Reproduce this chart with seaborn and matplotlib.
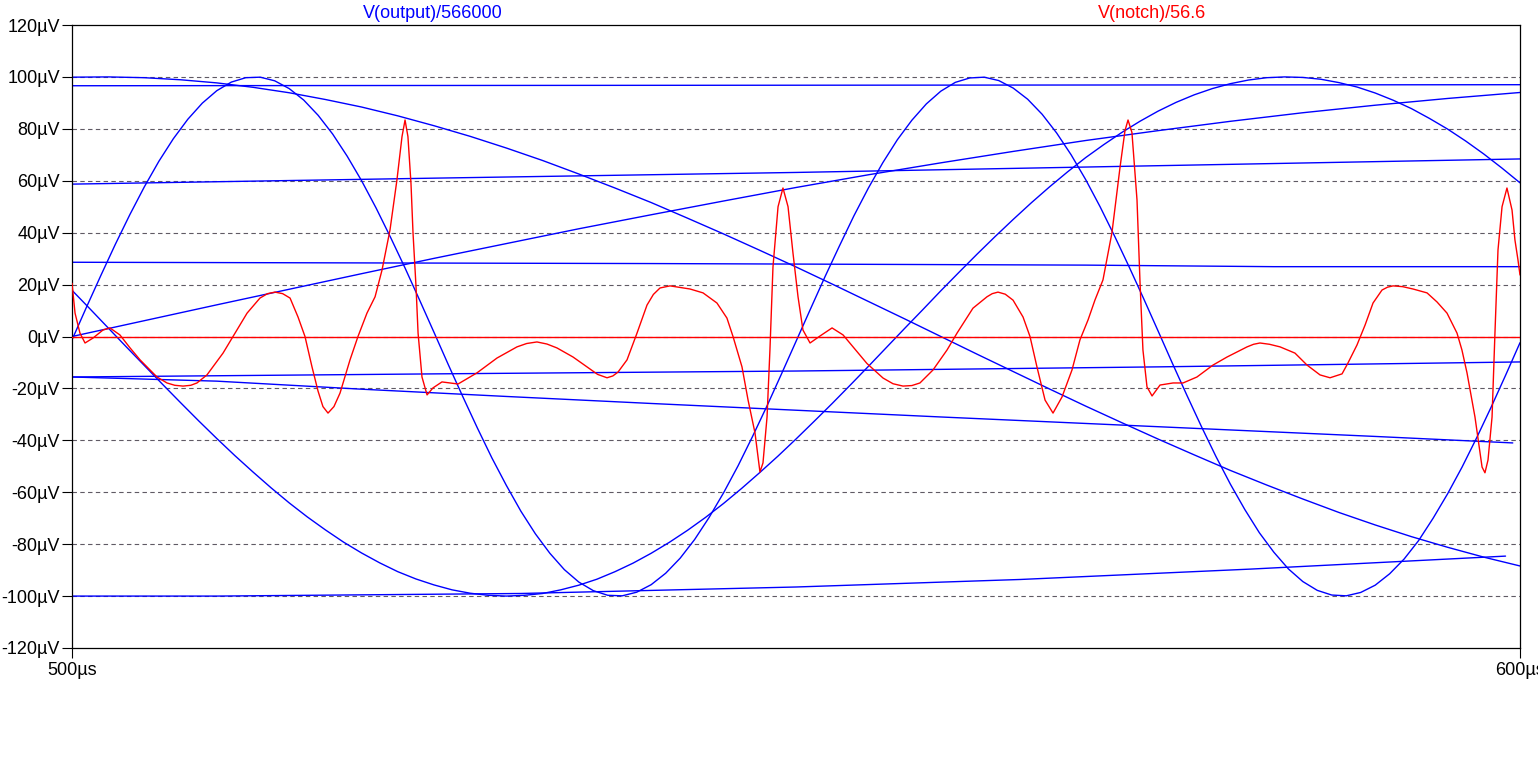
import numpy as np
import matplotlib
matplotlib.use("Agg")
import matplotlib.pyplot as plt
import seaborn as sns

# ---------------- data (time in µs, value in µV) ----------------
# fast blue sine, sampled every 1 µs
a_t = np.arange(500, 601, 1)
a_v = [-1.3, 11.3, 23.6, 35.6, 47.0, 57.7, 67.5, 76.2, 83.7, 89.9,
       94.7, 98.0, 99.7, 99.9, 98.5, 95.5, 91.1, 85.2, 78.0, 69.5,
       60.0, 49.5, 38.2, 26.4, 14.1, 1.6, -11.0, -23.3, -35.3, -46.8,
       -57.4, -67.3, -76.0, -83.5, -89.8, -94.6, -97.9, -99.7, -99.9, -98.5,
       -95.6, -91.2, -85.4, -78.2, -69.7, -60.2, -49.8, -38.5, -26.7, -14.4,
       -1.9, 10.6, 23.0, 34.9, 46.5, 57.2, 67.0, 75.8, 83.3, 89.6,
       94.5, 97.9, 99.6, 99.9, 98.6, 95.7, 91.4, 85.6, 78.4, 70.0,
       60.5, 50.0, 38.7, 26.9, 14.7, 2.2, -10.4, -22.7, -34.7, -46.2,
       -56.9, -66.7, -75.6, -83.1, -89.5, -94.4, -97.8, -99.6, -99.9, -98.6,
       -95.8, -91.4, -85.7, -78.6, -70.0, -60.6, -50.3, -39.1, -27.3, -15.0,
       -2.4]

# slow falling blue curve, every 2.5 µs
b_t = np.arange(500, 600.1, 2.5)
b_v = [99.9, 100.0, 99.7, 98.9, 97.7, 96.0, 93.9, 91.3, 88.4, 85.0,
       81.2, 77.1, 72.6, 67.8, 62.6, 57.2, 51.6, 45.6, 39.5, 33.2,
       26.8, 20.2, 13.5, 6.8, 0.0, -6.8, -13.5, -20.2, -26.8, -33.2,
       -39.5, -45.6, -51.6, -57.2, -62.6, -67.8, -72.6, -77.1, -81.2, -85.0,
       -88.4]

# slow rising blue curve, every 5 µs
c_t = np.arange(500, 601, 5)
c_v = [0.0, 6.1, 12.2, 18.2, 24.2, 30.1, 35.8, 41.5, 46.9, 52.2, 57.4, 62.3, 66.9,
       71.3, 75.5, 79.3, 82.9, 86.2, 89.1, 91.7, 94.0]

# medium blue sine, every 1.25 µs
d_t = np.arange(500, 600.01, 1.25)
d_v = [17.8, 10.6, 3.3, -4.0, -11.2, -18.4, -25.5, -32.5, -39.3, -45.9,
       -52.2, -58.3, -64.1, -69.5, -74.5, -79.2, -83.4, -87.2, -90.6, -93.4,
       -95.7, -97.6, -98.9, -99.7, -100.0, -99.7, -99.0, -97.6, -95.8, -93.5,
       -90.6, -87.3, -83.5, -79.3, -74.7, -69.7, -64.3, -58.5, -52.4, -46.1,
       -39.5, -32.7, -25.8, -18.7, -11.5, -4.2, 3.1, 10.3, 17.6, 24.7,
       31.7, 38.5, 45.1, 51.5, 57.6, 63.4, 68.9, 73.9, 78.6, 82.9,
       86.8, 90.2, 93.1, 95.5, 97.4, 98.8, 99.7, 100.0, 99.8, 99.1,
       97.8, 96.1, 93.8, 91.0, 87.8, 84.0, 79.9, 75.3, 70.3, 64.9,
       59.2]

# nearly flat blue traces
e1_t = [500, 550, 600]
e1_v = [96.6, 96.8, 97.0]
e2_t = [500, 525, 550, 575, 600]
e2_v = [58.7, 61.0, 63.2, 65.8, 68.4]
e3_t = [500, 540, 570, 583, 600]
e3_v = [28.6, 28.1, 27.5, 26.9, 26.9]
e4_t = [500, 525, 550, 575, 600]
e4_v = [-15.6, -14.4, -13.3, -11.7, -9.8]
e5_t = [500, 510, 520, 530, 540, 550, 560, 570, 580, 590, 599.5]
e5_v = [-15.6, -17.2, -20.3, -23.1, -25.8, -28.4, -31.0, -33.5, -36.0, -38.5, -41.0]
e6_t = [500, 510, 531, 550, 565.5, 581.4, 599.0]
e6_v = [-100, -100, -99, -96.5, -93.6, -89.6, -84.6]

blue_series = [(a_t, a_v), (b_t, b_v), (c_t, c_v), (d_t, d_v), (e1_t, e1_v),
               (e2_t, e2_v), (e3_t, e3_v), (e4_t, e4_v), (e5_t, e5_v), (e6_t, e6_v)]

# red V(notch)/56.6 trace: (time µs, value µV)
red_points = [
    (500.00, 20.5), (500.21, 9.0), (500.55, 1.3), (500.90, -2.5), (501.45, -0.6),
    (502.14, 2.5), (502.62, 3.3), (503.31, 0.6), (504.01, -4.4), (504.70, -9.0),
    (505.87, -15.6), (506.56, -17.9), (507.10, -18.8), (507.67, -19.1), (508.20, -18.8),
    (508.63, -17.9), (509.32, -14.8), (510.43, -6.4), (511.12, 0.0), (512.09, 9.0),
    (512.98, 14.8), (513.50, 16.5), (514.02, 17.1), (514.55, 16.5), (515.06, 14.8),
    (515.61, 7.5), (516.09, 0.0), (516.57, -11.6), (516.99, -21.0), (517.33, -27.0),
    (517.68, -29.5), (518.09, -27.0), (518.51, -21.8), (519.20, -9.0), (519.75, 0.0),
    (520.37, 9.0), (520.93, 15.3), (521.41, 25.6), (521.96, 41.0), (522.44, 60.3),
    (522.79, 77.0), (523.00, 83.4), (523.20, 77.0), (523.41, 59.0), (523.55, 40.0),
    (523.76, 19.0), (523.90, 1.3), (524.17, -15.6), (524.52, -22.5), (524.93, -19.8),
    (525.55, -17.5), (526.66, -18.3), (527.97, -14.0), (529.35, -8.3), (530.73, -4.0),
    (531.40, -2.7), (532.11, -2.1), (532.80, -2.9), (533.49, -4.4), (534.60, -7.9),
    (535.57, -11.7), (536.30, -14.6), (536.95, -15.9), (537.35, -15.2), (537.71, -13.7),
    (538.33, -9.0), (539.02, 1.3), (539.71, 12.1), (540.15, 16.2), (540.61, 18.7),
    (541.30, 19.5), (542.68, 18.3), (543.58, 16.8), (544.54, 12.9), (545.23, 7.1),
    (545.65, 0.0), (546.27, -11.7), (546.69, -24.5), (547.17, -37.2), (547.51, -52.2),
    (547.72, -48.7), (548.00, -31.0), (548.20, -5.2), (548.41, 26.8), (548.76, 50.0),
    (549.10, 57.2), (549.45, 50.0), (549.79, 32.2), (550.14, 15.3), (550.48, 2.5),
    (550.97, -2.5), (551.66, 0.2), (552.49, 3.3), (553.25, 0.6), (553.94, -4.0),
    (554.90, -10.4), (556.01, -16.0), (556.70, -18.2), (557.39, -19.1), (558.00, -18.9),
    (558.56, -17.9), (559.46, -12.9), (560.43, -5.2), (561.12, 1.3), (562.22, 10.9),
    (563.19, 15.3), (563.55, 16.5), (563.95, 17.1), (564.45, 16.3), (564.99, 14.0),
    (565.68, 7.5), (566.16, 0.0), (566.64, -11.7), (567.20, -24.5), (567.75, -29.5),
    (568.37, -23.3), (569.06, -12.9), (569.61, -1.3), (570.17, 6.4), (570.65, 14.1),
    (571.20, 21.8), (571.82, 40.0), (572.38, 65.3), (572.72, 79.3), (572.93, 83.4),
    (573.20, 78.6), (573.55, 52.6), (573.76, 20.6), (573.96, -5.2), (574.24, -19.4),
    (574.59, -22.9), (575.14, -18.7), (576.04, -17.9), (576.73, -17.9), (577.69, -15.6),
    (578.80, -11.0), (579.77, -7.9), (581.15, -4.0), (581.60, -3.0), (582.04, -2.5),
    (582.70, -3.0), (583.43, -4.0), (584.46, -6.4), (585.29, -11.0), (586.19, -14.8),
    (586.88, -15.9), (587.71, -14.4), (588.12, -10.2), (588.74, -3.3), (589.30, 4.4),
    (589.85, 12.9), (590.47, 17.9), (590.85, 19.0), (591.23, 19.5), (591.90, 19.2),
    (592.61, 18.3), (593.58, 16.8), (594.27, 13.3), (594.96, 9.0), (595.65, 1.3),
    (595.99, -5.2), (596.34, -14.0), (596.89, -31.0), (597.38, -50.3), (597.58, -52.5),
    (597.79, -47.6), (598.07, -31.0), (598.27, 1.3), (598.48, 33.3), (598.76, 50.0),
    (599.10, 57.2), (599.45, 48.7), (599.65, 37.2), (599.86, 29.5), (600.00, 23.7),
]
red_t = [p[0] for p in red_points]
red_v = [p[1] for p in red_points]
red_zero_t = [500, 600]
red_zero_v = [0, 0]

y_ticks = list(range(-120, 121, 20))
y_tick_labels = [f"{v}µV" for v in y_ticks]
x_ticks = [500, 600]
x_tick_labels = ["500µs", "600µs"]
title_blue = "V(output)/566000"
title_red = "V(notch)/56.6"

# ---------------- drawing ----------------
sns.set_theme(style="ticks")
plt.rcParams["font.family"] = ["Liberation Sans", "DejaVu Sans"]

W, H = 1538, 768
fig = plt.figure(figsize=(W / 100, H / 100), dpi=100)
fig.patch.set_facecolor("white")
ax = fig.add_axes([72 / W, 120 / H, 1448 / W, 623 / H])
ax.set_facecolor("white")

for yv in range(-100, 101, 20):
    ax.axhline(yv, color="#5f5a64", lw=0.8, ls=(0, (4, 3)), zorder=0.5)

for t, v in blue_series:
    sns.lineplot(x=np.asarray(t, float), y=np.asarray(v, float), ax=ax, color="#0000ff",
                 lw=1.0, estimator=None, sort=False, legend=False, zorder=2)

sns.lineplot(x=np.asarray(red_zero_t, float), y=np.asarray(red_zero_v, float), ax=ax,
             color="#ff0000", lw=1.0, estimator=None, sort=False, legend=False, zorder=3)
sns.lineplot(x=np.asarray(red_t, float), y=np.asarray(red_v, float), ax=ax,
             color="#ff0000", lw=1.0, estimator=None, sort=False, legend=False, zorder=3)

ax.set_xlim(500, 600)
ax.set_ylim(-120, 120)
ax.set_yticks(y_ticks)
ax.set_yticklabels(y_tick_labels)
ax.set_xticks(x_ticks)
ax.set_xticklabels(x_tick_labels)
ax.set_xlabel("")
ax.set_ylabel("")
ax.tick_params(axis="both", direction="out", length=7.2, width=0.8, labelsize=13,
               colors="black", left=True, bottom=True)
ax.tick_params(axis="y", pad=1.5)
ax.tick_params(axis="x", pad=3)
for s in ax.spines.values():
    s.set_visible(True)
    s.set_color("black")
    s.set_linewidth(0.9)

fig.text(433 / W, 1 - 13 / H, title_blue, color="#0000ff", fontsize=13,
         ha="center", va="center")
fig.text(1152 / W, 1 - 13 / H, title_red, color="#ff0000", fontsize=13,
         ha="center", va="center")

fig.savefig("out.png", dpi=100, facecolor="white")
